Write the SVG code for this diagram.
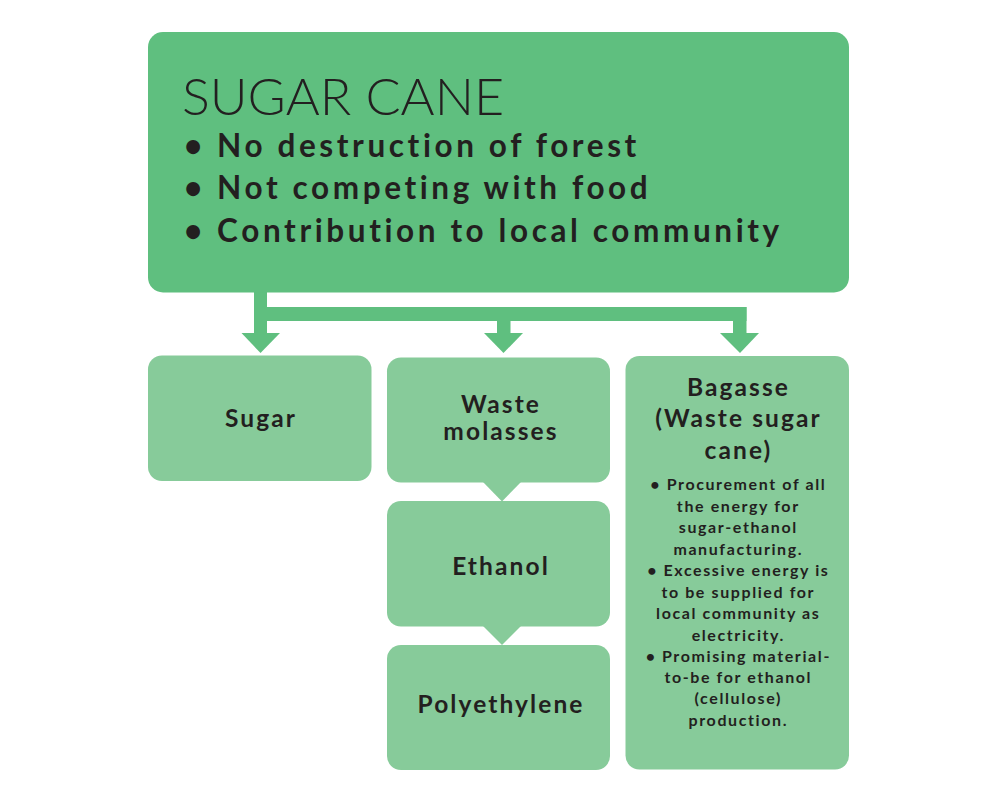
<svg xmlns="http://www.w3.org/2000/svg" width="1000" height="800" viewBox="0 0 1000 800">
<style>
.dark{fill:#5FBF7F}
.light{fill:#87CB9A}
.t{font-family:Lato,"Open Sans","Liberation Sans",sans-serif;fill:#231F20}
.title{font-size:52px;font-weight:300}
.big{font-size:31.5px;font-weight:700;letter-spacing:3.6px}
.lbl{font-size:24.5px;font-weight:700;text-anchor:middle;letter-spacing:2.1px}
.body{font-size:16px;font-weight:700;text-anchor:middle;letter-spacing:1.6px}
</style>
<rect width="1000" height="800" fill="#FFFFFF"/>
<g id="connectors" class="dark">
<rect x="254" y="290" width="13" height="44"/>
<rect x="254" y="307" width="492.5" height="14"/>
<rect x="733" y="307" width="13.5" height="27"/>
<rect x="497" y="320" width="13.5" height="14"/>
<polygon points="241.5,333 280,333 260.5,353"/>
<polygon points="484,333 523,333 503.5,353"/>
<polygon points="720,333 759,333 740,353"/>
<polygon class="light" points="483,482 521,482 502,501.5"/>
<polygon class="light" points="483,626 521,626 502,645"/>
</g>
<g id="sugarcane">
<rect class="dark" x="148" y="32" width="701" height="260.5" rx="15"/>
<text class="t title" x="182" y="115">SUGAR CANE</text>
<text class="t big" x="184" y="157">• No destruction of forest</text>
<text class="t big" x="184" y="199">• Not competing with food</text>
<text class="t big" x="184" y="242">• Contribution to local community</text>
</g>
<g id="sugar">
<rect class="light" x="148" y="355.5" width="223.5" height="125.5" rx="14"/>
<text class="t lbl" x="261" y="427">Sugar</text>
</g>
<g id="molasses">
<rect class="light" x="387" y="357.5" width="223" height="125" rx="14"/>
<text class="t lbl" x="501" y="413">Waste</text>
<text class="t lbl" x="501" y="440">molasses</text>
</g>
<g id="ethanol">
<rect class="light" x="387" y="501" width="223" height="125.5" rx="14"/>
<text class="t lbl" x="501" y="575">Ethanol</text>
</g>
<g id="polyethylene">
<rect class="light" x="387" y="645" width="223" height="125" rx="14"/>
<text class="t lbl" x="501" y="713">Polyethylene</text>
</g>
<g id="bagasse">
<rect class="light" x="625.5" y="356" width="223.5" height="413.5" rx="14"/>
<text class="t lbl" x="738.5" y="396">Bagasse</text>
<text class="t lbl" x="738.5" y="427">(Waste sugar</text>
<text class="t lbl" x="738.5" y="459">cane)</text>
<text class="t body" x="738.3" y="490">• Procurement of all</text>
<text class="t body" x="738.3" y="511.5">the energy for</text>
<text class="t body" x="738.3" y="533">sugar-ethanol</text>
<text class="t body" x="738.3" y="554.5">manufacturing.</text>
<text class="t body" x="738.3" y="576">• Excessive energy is</text>
<text class="t body" x="738.3" y="597.5">to be supplied for</text>
<text class="t body" x="738.3" y="619">local community as</text>
<text class="t body" x="738.3" y="640.5">electricity.</text>
<text class="t body" x="738.3" y="662">• Promising material-</text>
<text class="t body" x="738.3" y="683">to-be for ethanol</text>
<text class="t body" x="738.3" y="704">(cellulose)</text>
<text class="t body" x="738.3" y="725.5">production.</text>
</g>
</svg>
